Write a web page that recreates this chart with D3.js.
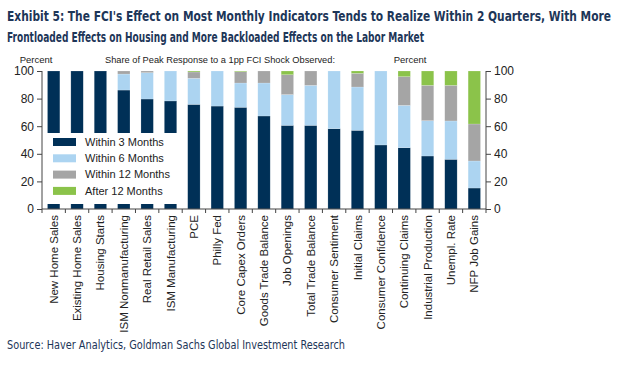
<!DOCTYPE html>
<html>
<head>
<meta charset="utf-8">
<script src="https://cdn.jsdelivr.net/npm/d3@7"></script>
<style>
  body { margin: 0; background: #fff; }
  svg { display: block; font-family: "Liberation Sans", Arial, sans-serif; }
  .title { font-family: "Liberation Sans Narrow", "DejaVu Sans Condensed", sans-serif; font-weight: bold; fill: #1d3658; }
  .source { font-family: "Liberation Sans Narrow", "DejaVu Sans Condensed", sans-serif; fill: #1d3658; }
  .axis path, .axis line { stroke: #444; }
  .axis text { fill: #222; font-size: 12px; font-family: "Liberation Sans", Arial, sans-serif; }
</style>
</head>
<body>
<div id="chart"></div>
<script>
var categories = ["New Home Sales", "Existing Home Sales", "Housing Starts", "ISM Nonmanufacturing",
    "Real Retail Sales", "ISM Manufacturing", "PCE", "Philly Fed", "Core Capex Orders",
    "Goods Trade Balance", "Job Openings", "Total Trade Balance", "Consumer Sentiment",
    "Initial Claims", "Consumer Confidence", "Continuing Claims", "Industrial Production",
    "Unempl. Rate", "NFP Job Gains"];

// share of peak response reached in each window (percent)
var within3 = [100, 100, 100, 86.2, 79.7, 78.3, 75.8, 74.6, 73.7, 67.4, 60.6, 60.6, 58.2, 57.0, 46.4, 44.4, 38.4, 36.0, 15.2];
var within6 = [0, 0, 0, 11.6, 19.1, 21.7, 18.9, 25.4, 17.6, 23.9, 22.3, 29.0, 41.8, 31.4, 53.6, 30.7, 25.6, 27.8, 19.6];
var within12 = [0, 0, 0, 2.2, 1.2, 0, 4.6, 0, 8.2, 8.7, 14.4, 10.4, 0, 9.9, 0, 20.8, 25.6, 25.8, 26.8];
var after12 = [0, 0, 0, 0, 0, 0, 0.7, 0, 0.5, 0, 2.7, 0, 0, 1.7, 0, 4.1, 10.4, 10.4, 38.4];

var seriesNames = ["Within 3 Months", "Within 6 Months", "Within 12 Months", "After 12 Months"];
var seriesColors = ["#003057", "#acd4f1", "#a5a5a5", "#8bc34a"];
var yTicks = [0, 20, 40, 60, 80, 100];

var W = 621, H = 367;
var margin = { top: 71, right: 135, bottom: 158, left: 42 };
var width = W - margin.left - margin.right,
    height = H - margin.top - margin.bottom;

var svg = d3.select("#chart").append("svg")
    .attr("width", W)
    .attr("height", H);

svg.append("text").attr("class", "title")
    .attr("x", 7).attr("y", 21)
    .style("font-size", "14px")
    .attr("textLength", 604).attr("lengthAdjust", "spacingAndGlyphs")
    .text("Exhibit 5: The FCI's Effect on Most Monthly Indicators Tends to Realize Within 2 Quarters, With More");
svg.append("text").attr("class", "title")
    .attr("x", 7).attr("y", 42)
    .style("font-size", "14px")
    .attr("textLength", 417).attr("lengthAdjust", "spacingAndGlyphs")
    .text("Frontloaded Effects on Housing and More Backloaded Effects on the Labor Market");

var g = svg.append("g")
    .attr("transform", "translate(" + margin.left + "," + margin.top + ")");

var x = d3.scaleBand().domain(categories).range([0, width]).paddingInner(0.47).paddingOuter(0.235);
var y = d3.scaleLinear().domain([0, 100]).range([height, 0]);

var rows = categories.map(function(c, i) {
    return { cat: c, s0: within3[i], s1: within6[i], s2: within12[i], s3: after12[i] };
});
var stack = d3.stack().keys(["s0", "s1", "s2", "s3"]);
var layers = stack(rows);

g.selectAll(".layer")
    .data(layers)
    .enter().append("g")
    .attr("class", "layer")
    .attr("fill", function(d, i) { return seriesColors[i]; })
    .selectAll("rect")
    .data(function(d) { return d; })
    .enter().append("rect")
    .attr("x", function(d) { return x(d.data.cat); })
    .attr("width", x.bandwidth())
    .attr("y", function(d) { return y(d[1]); })
    .attr("height", function(d) { return Math.max(0, y(d[0]) - y(d[1])); })
    .attr("stroke", "rgba(255,255,255,0.35)")
    .attr("stroke-width", 0.5);

// axes
var yLeft = g.append("g").attr("class", "axis")
    .call(d3.axisLeft(y).tickValues(yTicks).tickSize(5).tickPadding(3));
var yRight = g.append("g").attr("class", "axis")
    .attr("transform", "translate(" + width + ",0)")
    .call(d3.axisRight(y).tickValues(yTicks).tickSize(5).tickPadding(3));
[yLeft, yRight].forEach(function(a) {
    a.select(".domain").attr("d", "M0,0V" + height);
});

var xAxis = g.append("g").attr("class", "axis")
    .attr("transform", "translate(0," + height + ")")
    .call(d3.axisBottom(x).tickSize(0).tickPadding(6));
xAxis.select(".domain").attr("d", "M0,0H" + width);
xAxis.selectAll("text")
    .attr("transform", "rotate(-90)")
    .attr("x", -6).attr("y", 0)
    .attr("dy", "0.35em")
    .style("text-anchor", "end")
    .style("font-size", "11.5px");

// tick marks between categories
var step = x.step();
var bounds = d3.range(categories.length + 1).map(function(i) { return i * step; });
xAxis.selectAll(".sep")
    .data(bounds)
    .enter().append("line")
    .attr("class", "sep")
    .attr("x1", function(d) { return d; })
    .attr("x2", function(d) { return d; })
    .attr("y1", 0).attr("y2", 4);

// header labels
svg.append("text").attr("x", 36).attr("y", 63).attr("text-anchor", "middle")
    .style("font-size", "9.5px").attr("fill", "#222").text("Percent");
svg.append("text").attr("x", 220).attr("y", 63).attr("text-anchor", "middle")
    .style("font-size", "9.5px").attr("fill", "#222")
    .attr("textLength", 230).attr("lengthAdjust", "spacingAndGlyphs")
    .text("Share of Peak Response to a 1pp FCI Shock Observed:");
svg.append("text").attr("x", 410).attr("y", 63).attr("text-anchor", "middle")
    .style("font-size", "9.5px").attr("fill", "#222").text("Percent");

// legend
var legend = g.append("g").attr("transform", "translate(1," + (133 - margin.top) + ")");
legend.append("rect").attr("width", 141).attr("height", 71).attr("fill", "#fff");
var items = legend.selectAll(".item")
    .data(seriesNames)
    .enter().append("g")
    .attr("transform", function(d, i) { return "translate(10," + (5 + i * 16.3) + ")"; });
items.append("rect").attr("width", 23).attr("height", 8)
    .attr("fill", function(d, i) { return seriesColors[i]; });
items.append("text").attr("x", 32).attr("y", 4).attr("dy", "0.35em")
    .style("font-size", "11px").attr("fill", "#222")
    .text(function(d) { return d; });

svg.append("text").attr("class", "source")
    .attr("x", 7).attr("y", 349)
    .style("font-size", "11.5px")
    .attr("textLength", 338).attr("lengthAdjust", "spacingAndGlyphs")
    .text("Source: Haver Analytics, Goldman Sachs Global Investment Research");
</script>
</body>
</html>
